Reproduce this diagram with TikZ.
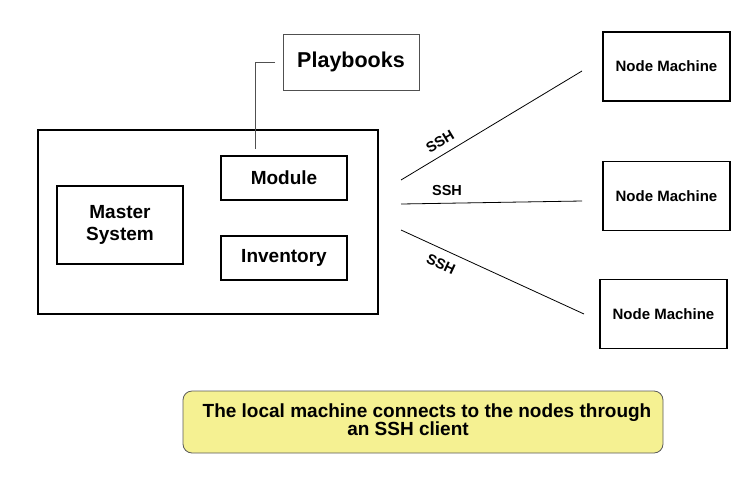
\documentclass[tikz,border=0pt]{standalone}
\usepackage{fontspec}
\setmainfont{Liberation Sans}
\definecolor{notefill}{RGB}{245,241,146}
\definecolor{notedraw}{RGB}{90,90,90}
\definecolor{thin}{RGB}{80,80,80}
\begin{document}
\begin{tikzpicture}[x=1pt,y=-1pt,
  box/.style={draw=black,line width=1.5pt,inner sep=0pt,font=\bfseries\fontsize{19}{22}\selectfont},
  nodebox/.style={draw=black,line width=1.5pt,minimum width=127pt,minimum height=69pt,inner sep=0pt,font=\bfseries\fontsize{15}{18}\selectfont},
  link/.style={draw=black,line width=0.8pt},
  lbl/.style={font=\bfseries\fontsize{14.5}{16}\selectfont,inner sep=0pt},
  notetxt/.style={font=\bfseries\fontsize{19}{18}\selectfont,inner sep=0pt,anchor=base}]
\useasboundingbox (0,0) rectangle (755,480);
% outer master frame
\node[draw=black,line width=2pt,minimum width=340pt,minimum height=184pt,inner sep=0pt] (frame) at (208,222) {};
\node[box,minimum width=126pt,minimum height=78pt,align=center] (master) at (120,225) {Master\\System};
\node[box,minimum width=126pt,minimum height=44pt] (module) at (284,178) {Module};
\node[box,minimum width=126pt,minimum height=44pt] (inventory) at (284,258) {Inventory};
\node[draw=thin,line width=0.8pt,minimum width=136pt,minimum height=56pt,inner sep=0pt,font=\bfseries\fontsize{21.5}{24}\selectfont] (play) at (351,62) {Playbooks};
% playbooks connector
\coordinate (pbend) at (255,62);
\coordinate (pstart) at (275,62);
\coordinate (pend) at (255,149);
\draw[draw=thin,line width=0.9pt] (pstart) -- (pbend) -- (pend);
% node machines
\node[nodebox] (n1) at (666.5,66.5) {Node Machine};
\node[nodebox] (n2) at (666.5,196) {Node Machine};
\node[nodebox] (n3) at (663.5,314) {Node Machine};
% SSH links
\coordinate (s1) at (401,180); \coordinate (e1) at (582,71);
\coordinate (s2) at (401,204); \coordinate (e2) at (582,201);
\coordinate (s3) at (401,230); \coordinate (e3) at (584,314);
\draw[link] (s1) -- (e1);
\draw[link] (s2) -- (e2);
\draw[link] (s3) -- (e3);
\node[lbl,rotate=31] (ssh1) at (440,142) {SSH};
\node[lbl] (ssh2) at (447,190.5) {SSH};
\node[lbl,rotate=-25] (ssh3) at (441,264) {SSH};
% note
\node[draw=notedraw,fill=notefill,line width=0.8pt,rounded corners=9pt,minimum width=480pt,minimum height=62pt,inner sep=0pt] (note) at (423,422) {};
\node[notetxt] (noteline1) at (427,417) {The local machine connects to the nodes through};
\node[notetxt] (noteline2) at (408,435) {an SSH client};
\end{tikzpicture}
\end{document}
